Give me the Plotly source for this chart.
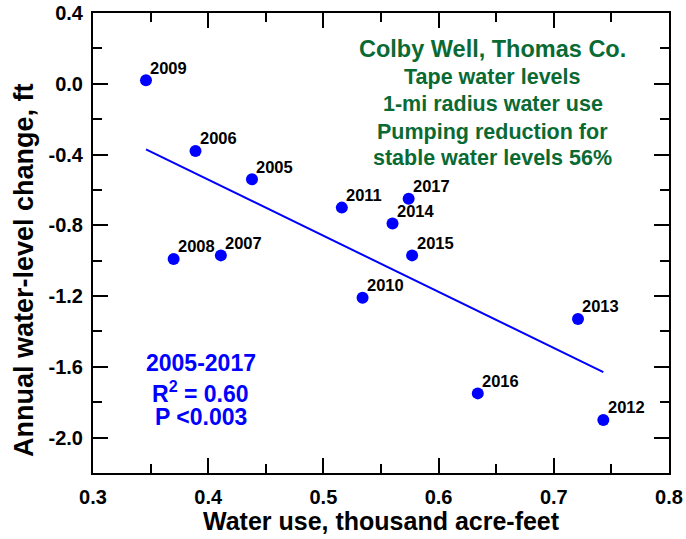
import numpy as np
import plotly.graph_objects as go

# Annual pumping (thousand acre-feet) vs. annual water-level change (ft), Colby Well
years = ["2005", "2006", "2007", "2008", "2009", "2010", "2011",
         "2012", "2013", "2014", "2015", "2016", "2017"]
water_use = [0.438, 0.389, 0.411, 0.370, 0.346, 0.534, 0.516,
             0.743, 0.721, 0.560, 0.577, 0.634, 0.574]
level_change = [-0.54, -0.38, -0.97, -0.99, 0.02, -1.21, -0.70,
                -1.90, -1.33, -0.79, -0.97, -1.75, -0.65]

x_ticks = [0.3, 0.4, 0.5, 0.6, 0.7, 0.8]
y_ticks = [0.4, 0.0, -0.4, -0.8, -1.2, -1.6, -2.0]

FONT = "Liberation Sans, Arial, sans-serif"
GREEN = "#0a6a34"
BLUE = "#0000ff"

W, H = 686, 539
ML, MR, MT, MB = 93, 17, 13, 66
PW, PH = W - ML - MR, H - MT - MB


def px_to_paper(px, py):
    return (px - ML) / PW, (H - MB - py) / PH


# least-squares trend line over the observed range
slope, intercept = np.polyfit(water_use, level_change, 1)
fit_x = np.array([min(water_use), max(water_use)])
fit_y = slope * fit_x + intercept

fig = go.Figure()
fig.add_trace(go.Scatter(x=fit_x, y=fit_y, mode="lines",
                         line=dict(color=BLUE, width=2), hoverinfo="skip"))
fig.add_trace(go.Scatter(x=water_use, y=level_change, mode="markers",
                         marker=dict(color=BLUE, size=12, line=dict(width=0))))

annotations = []
for yr, xv, yv in zip(years, water_use, level_change):
    annotations.append(dict(x=xv, y=yv, xref="x", yref="y", text=yr,
                            showarrow=False, xanchor="left", yanchor="bottom",
                            xshift=3.5, yshift=2.6, borderpad=0,
                            font=dict(family=FONT, size=16.5, color="black",
                                      weight="bold")))

# well description block
green_lines = [("Colby Well, Thomas Co.", 23.5, 48.6),
               ("Tape water levels", 21.5, 76.8),
               ("1-mi radius water use", 21.5, 104.2),
               ("Pumping reduction for", 21.5, 131.8),
               ("stable water levels 56%", 21.5, 157.5)]
for txt, sz, py in green_lines:
    ax, ay = px_to_paper(492.5, py)
    annotations.append(dict(x=ax, y=ay, xref="paper", yref="paper", text=txt,
                            showarrow=False, xanchor="center", yanchor="middle",
                            borderpad=0,
                            font=dict(family=FONT, size=sz, color=GREEN,
                                      weight="bold")))

# regression statistics
blue_lines = [("2005-2017", 362.6), ("R<sup>2</sup> = 0.60", 391.9),
              ("P <0.003", 416.9)]
for txt, py in blue_lines:
    ax, ay = px_to_paper(200.5, py)
    annotations.append(dict(x=ax, y=ay, xref="paper", yref="paper", text=txt,
                            showarrow=False, xanchor="center", yanchor="middle",
                            borderpad=0,
                            font=dict(family=FONT, size=23, color=BLUE,
                                      weight="bold")))

# axis titles
tx, ty = px_to_paper(381.4, 520.5)
annotations.append(dict(x=tx, y=ty, xref="paper", yref="paper",
                        text="Water use, thousand acre-feet", showarrow=False,
                        xanchor="center", yanchor="middle", borderpad=0,
                        font=dict(family=FONT, size=25, color="black",
                                  weight="bold")))
tx, ty = px_to_paper(24, 270)
annotations.append(dict(x=tx, y=ty, xref="paper", yref="paper",
                        text="Annual water-level change, ft", showarrow=False,
                        textangle=-90, xanchor="center", yanchor="middle",
                        borderpad=0,
                        font=dict(family=FONT, size=27, color="black",
                                  weight="bold")))

axis_common = dict(showline=True, linecolor="black", linewidth=2,
                   mirror="ticks", ticks="inside", ticklen=15, tickwidth=2,
                   tickcolor="black", showgrid=False, zeroline=False,
                   automargin=False,
                   tickfont=dict(family=FONT, size=20, color="black",
                                 weight="bold"))

fig.update_layout(
    width=W, height=H,
    margin=dict(l=ML, r=MR, t=MT, b=MB, autoexpand=False),
    paper_bgcolor="white", plot_bgcolor="white",
    showlegend=False,
    annotations=annotations,
    xaxis=dict(range=[0.3, 0.8], tickvals=x_ticks,
               ticktext=[f"{v:.1f}" for v in x_ticks],
               minor=dict(dtick=0.05, tick0=0.3, ticks="inside", ticklen=9,
                          tickwidth=2, tickcolor="black", showgrid=False),
               ticklabelstandoff=5,
               **axis_common),
    yaxis=dict(range=[-2.2, 0.4], tickvals=y_ticks,
               ticktext=[f"{v:.1f}" for v in y_ticks],
               minor=dict(dtick=0.2, tick0=0.0, ticks="inside", ticklen=9,
                          tickwidth=2, tickcolor="black", showgrid=False),
               ticklabelstandoff=4,
               **axis_common),
)

fig.write_html("out.html")
